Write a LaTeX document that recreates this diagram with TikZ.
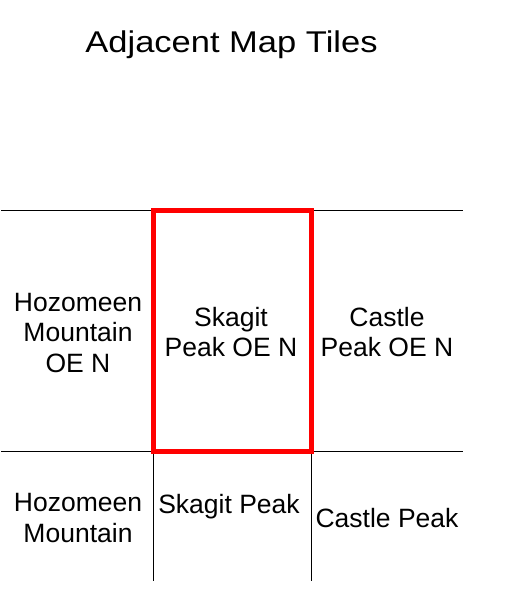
\documentclass[tikz,border=0pt]{standalone}
\usepackage{fontspec}
\setmainfont{Liberation Sans}
\newfontfamily\titlefont[FakeStretch=1.15]{Liberation Sans}
\tikzset{
  lbl/.style={align=center, inner sep=0pt, font=\fontsize{26.5}{30.4}\selectfont},
  gridline/.style={black, line width=1.6pt},
  sel/.style={red, line width=4.5pt}
}
\begin{document}
\begin{tikzpicture}[x=1pt,y=-1pt]
\useasboundingbox (0,0) rectangle (508,589);
% title
\node[inner sep=0pt, font=\titlefont\fontsize{30}{34}\selectfont] (title) at (231.5,45) {Adjacent Map Tiles};
% grid coordinates
\coordinate (tl) at (1,210.5);
\coordinate (tr) at (463,210.5);
\coordinate (bl) at (1,451.5);
\coordinate (br) at (463,451.5);
\coordinate (v1t) at (153.5,451.5);
\coordinate (v1b) at (153.5,581);
\coordinate (v2t) at (311.5,451.5);
\coordinate (v2b) at (311.5,581);
\draw[gridline] (tl) -- (tr);
\draw[gridline] (bl) -- (br);
\draw[gridline] (v1t) -- (v1b);
\draw[gridline] (v2t) -- (v2b);
\draw[sel] (153.5,210.5) rectangle (311.5,451.5);
% labels
\node[lbl] (hozoe) at (78,333) {Hozomeen\\Mountain\\OE N};
\node[lbl] (skoe) at (231,332) {Skagit\\Peak OE N};
\node[lbl] (caoe) at (387,332) {Castle\\Peak OE N};
\node[lbl] (hoz) at (78,518) {Hozomeen\\Mountain};
\node[lbl] (sk) at (229,507) {Skagit Peak};
\node[lbl] (ca) at (387,518) {Castle Peak};
\end{tikzpicture}
\end{document}
